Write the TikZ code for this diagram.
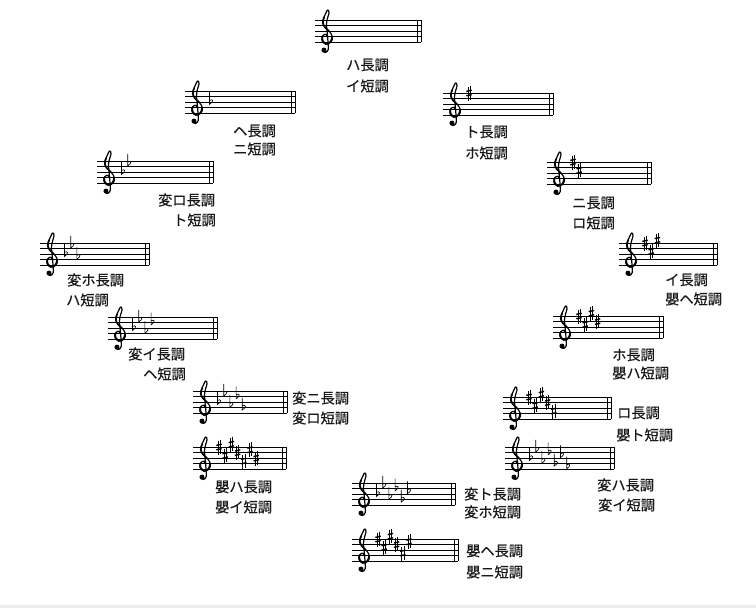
\documentclass[tikz,border=0pt]{standalone}
\usepackage{fontspec}
\newfontfamily\jpfont[FakeBold=0.5]{Noto Sans CJK JP}
\def\ssp{5.6}
\tikzset{
  staffline/.style={line width=0.8pt},
  lbl/.style={font=\jpfont\fontsize{14.2}{16}\selectfont, anchor=west, inner sep=0pt, text=black!90},
  trebleclef/.pic={
    \begin{scope}[xscale=\ssp,yscale=-\ssp]
      \draw[line width=1.2pt,line cap=round,line join=round] plot[smooth,tension=0.6] coordinates {(1.5,0.75) (1.15,1.45) (0.55,1.15) (0.45,0.35) (1.15,-0.3) (2.05,0.1) (2.3,1.0) (1.8,1.9) (0.95,2.7) (0.55,3.6) (0.85,4.6) (1.45,5.8) (1.7,5.3) (1.45,4.4) (1.25,3.3) (1.4,1.5) (1.55,-0.3) (1.55,-1.3) (1.1,-1.8) (0.7,-1.6)};
      \draw[line width=1.9pt,line cap=round] plot[smooth,tension=0.6] coordinates {(0.5,1.0) (0.55,0.3) (1.15,-0.25) (2.0,0.1) (2.25,0.9)};
      \draw[line width=1.6pt,line cap=round] plot[smooth,tension=0.6] coordinates {(1.7,2.0) (0.95,2.75) (0.6,3.6) (0.85,4.55)};
      \fill (0.8,-1.38) circle (0.45);
    \end{scope}
  },
  accsharp/.pic={
    \draw[line width=0.65pt] (-1.1,-6.5) -- (-1.1,7.5) (1.1,-7.5) -- (1.1,6.5);
    \draw[line width=1.4pt] (-2.7,2.8) -- (2.7,1.6) (-2.7,-1.6) -- (2.7,-2.8);
  },
  accflat/.pic={
    \draw[line width=0.65pt] (-1.5,-10) -- (-1.5,2.2) .. controls (2.8,-0.3) and (2.4,-4) .. (-1.5,-1.8);
  },
  accnone/.pic={}
}
\newcommand\mkstaff[5]{%
  \begin{scope}[shift={(#1,#2)}]
    \pgfmathsetmacro\stw{#3-#1}
    \foreach \i in {0,...,4} \draw[staffline] (0,{\i*\ssp}) -- (\stw,{\i*\ssp});
    \draw[staffline] ({\stw-3.5},0) -- ({\stw-3.5},{4*\ssp});
    \draw[staffline] (\stw,0) -- (\stw,{4*\ssp});
    \pic at (4.5,{4*\ssp}) {trebleclef};
    \foreach \p [count=\k from 0] in {#5} \pic at ({26+6.2*\k},{(8-\p)*\ssp/2}) {#4};
  \end{scope}}
\begin{document}
\begin{tikzpicture}[x=1pt,y=-1pt]
\useasboundingbox (0,0) rectangle (756,608);
\fill[black!7] (0,605) rectangle (756,608);
% staves
\mkstaff{315}{20}{421}{accnone}{0}
\mkstaff{185}{91}{295}{accflat}{4}
\mkstaff{443}{93}{553}{accsharp}{8}
\mkstaff{97}{161}{213}{accflat}{4,7}
\mkstaff{547}{162}{651}{accsharp}{8,5}
\mkstaff{40}{243}{149}{accflat}{4,7,3}
\mkstaff{619}{243}{717}{accsharp}{8,5,9}
\mkstaff{108}{317}{217}{accflat}{4,7,3,6}
\mkstaff{553}{316}{663}{accsharp}{8,5,9,6}
\mkstaff{193}{391}{287}{accflat}{4,7,3,6,2}
\mkstaff{503}{397}{611}{accsharp}{8,5,9,6,3}
\mkstaff{193}{447}{286}{accsharp}{8,5,9,6,3,7,4}
\mkstaff{505}{447}{614}{accflat}{4,7,3,6,2,5,1}
\mkstaff{352}{483}{455}{accflat}{4,7,3,6,2,5}
\mkstaff{352}{539}{458}{accsharp}{8,5,9,6,3,7}
% labels
\node[lbl] (cM) at (346,65) {ハ長調};
\node[lbl] (am) at (346,86) {イ短調};
\node[lbl] (FM) at (233,131) {ヘ長調};
\node[lbl] (dm) at (233,149) {ニ短調};
\node[lbl] (GM) at (465,132) {ト長調};
\node[lbl] (em) at (465,153) {ホ短調};
\node[lbl] (BbM) at (158,200) {変ロ長調};
\node[lbl] (gm) at (173,220) {ト短調};
\node[lbl] (DM) at (572,203) {ニ長調};
\node[lbl] (bm) at (572,223) {ロ短調};
\node[lbl] (EbM) at (67,280) {変ホ長調};
\node[lbl] (cm) at (66,300) {ハ短調};
\node[lbl] (AM) at (665,280) {イ長調};
\node[lbl] (fsm) at (665,299) {嬰ヘ短調};
\node[lbl] (AbM) at (128,354) {変イ長調};
\node[lbl] (fm) at (143,374) {ヘ短調};
\node[lbl] (EM) at (612,355) {ホ長調};
\node[lbl] (csm) at (612,373) {嬰ハ短調};
\node[lbl] (DbM) at (292,398) {変ニ長調};
\node[lbl] (bbm) at (292,418) {変ロ短調};
\node[lbl] (BM) at (617,413) {ロ長調};
\node[lbl] (gsm) at (616,435) {嬰ト短調};
\node[lbl] (CsM) at (215,487) {嬰ハ長調};
\node[lbl] (asm) at (215,507) {嬰イ短調};
\node[lbl] (CbM) at (597,485) {変ハ長調};
\node[lbl] (abm) at (598,505) {変イ短調};
\node[lbl] (GbM) at (464,494) {変ト長調};
\node[lbl] (ebm) at (464,512) {変ホ短調};
\node[lbl] (FsM) at (466,551) {嬰ヘ長調};
\node[lbl] (dsm) at (466,572) {嬰ニ短調};
\end{tikzpicture}
\end{document}
